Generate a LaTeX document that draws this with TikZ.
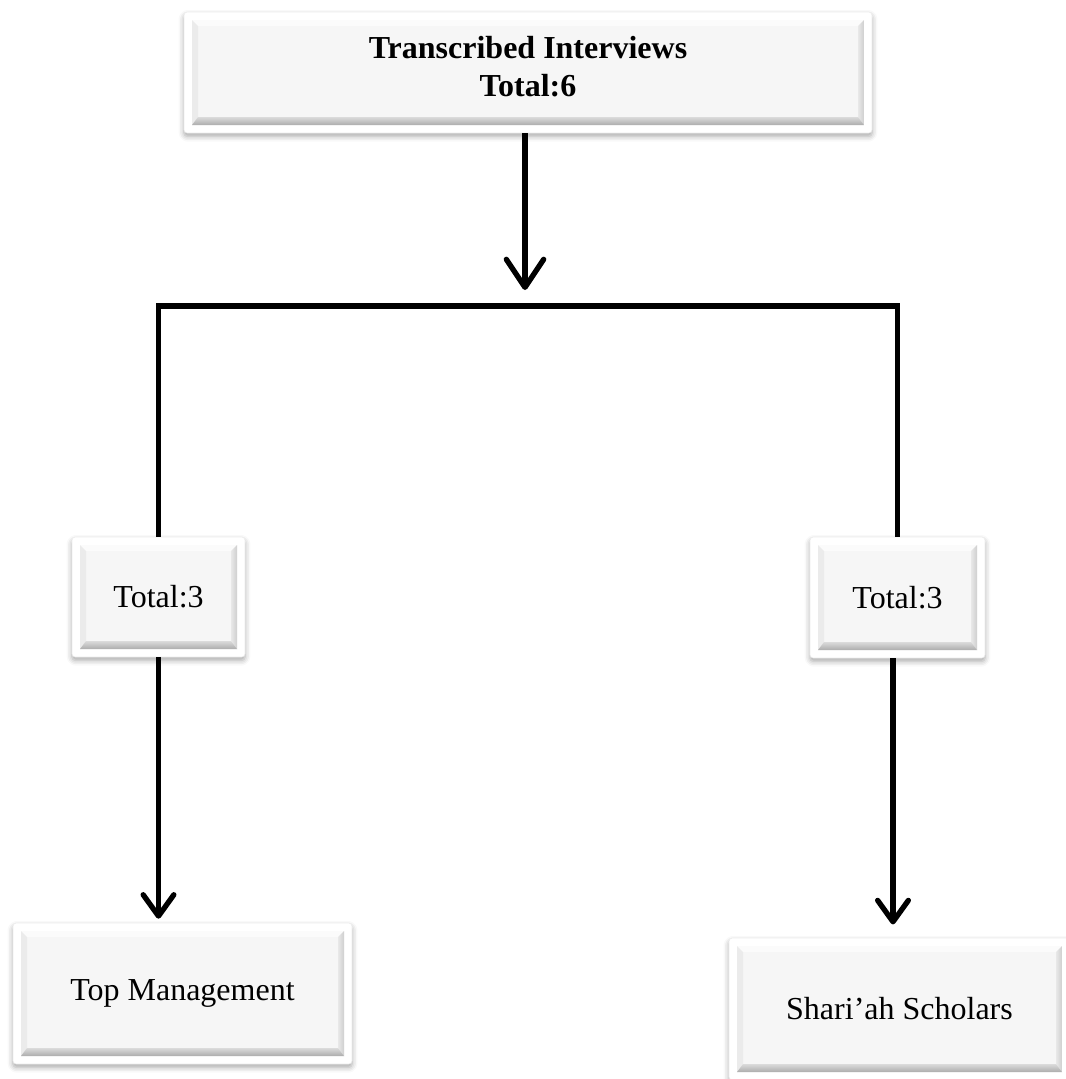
\documentclass[tikz,border=0pt]{standalone}
\usepackage{fontspec}
\setmainfont{Liberation Serif}
\usetikzlibrary{arrows.meta,shadows.blur}

\begin{document}
\begin{tikzpicture}[x=0.75pt,y=-0.75pt,
  bevelbox/.style={
    rounded corners=2.5pt, fill=white, draw=gray!15, line width=0.4pt,
    blur shadow={shadow xshift=0pt, shadow yshift=-2.5pt,
                 shadow blur radius=4pt, shadow opacity=35},
    inner sep=0pt, align=center,
    font=\fontsize{24}{28.5}\selectfont,
    path picture={
      \begin{scope}[sharp corners]
        \coordinate (ia) at ([shift={(6pt,6pt)}]path picture bounding box.south west);
        \coordinate (ib) at ([shift={(-6pt,-6pt)}]path picture bounding box.north east);
        \coordinate (ibr) at (ia -| ib);
        \coordinate (itl) at (ib -| ia);
        \coordinate (ja) at ([shift={(4.5pt,6pt)}]ia);
        \coordinate (jb) at ([shift={(-4.5pt,-4.5pt)}]ib);
        \coordinate (jbr) at (ja -| jb);
        \coordinate (jtl) at (jb -| ja);
        \fill[gray!7] (ia) rectangle (ib);
        % raised face: lit top and left, shaded right and bottom
        \fill[gray!3] (itl) -- (ib) -- (jb) -- (jtl) -- cycle;
        \fill[gray!16] (ia) -- (itl) -- (jtl) -- (ja) -- cycle;
        \shade[left color=gray!18, right color=gray!38] (ibr) -- (ib) -- (jb) -- (jbr) -- cycle;
        \shade[top color=gray!28, bottom color=gray!65] (ia) -- (ibr) -- (jbr) -- (ja) -- cycle;
      \end{scope}
    }},
  conn/.style={line width=4pt, black, line join=miter},
  bigtip/.style={-{Straight Barb[length=21pt,width=28pt,round,line width=4pt]}},
  smalltip/.style={-{Straight Barb[length=16pt,width=23pt,round,line width=4pt]}}
]
\useasboundingbox (0,0) rectangle (1066,1079);

% boxes
\node[bevelbox, minimum width=516pt, minimum height=90.75pt,
      font=\fontsize{24}{28.5}\selectfont\bfseries]
  (top) at (528,72.5) {Transcribed Interviews\\Total:6\strut};
\node[bevelbox, minimum width=129.75pt, minimum height=90pt]
  (lmid) at (158.5,597) {Total:3};
\node[bevelbox, minimum width=131.25pt, minimum height=90.75pt]
  (rmid) at (897.5,597.5) {Total:3};
\node[bevelbox, minimum width=254.25pt, minimum height=105.75pt]
  (lbot) at (182.5,993.5) {Top Management};
\node[bevelbox, minimum width=255.75pt, minimum height=106.5pt]
  (rbot) at (899.5,1009) {Shari’ah Scholars};

% connectors
\coordinate (toptip) at (525,290);
\coordinate (hub) at (525,306);
\coordinate (rx) at (893,0);

\draw[conn, bigtip] (toptip |- top.south) -- (toptip);
\draw[conn] (lmid.north) |- (hub) -| (rmid.north);
\draw[conn, smalltip, shorten >=3pt] (lmid.south) -- (lbot.north -| lmid.south);
\draw[conn, smalltip, shorten >=10pt] (rmid.south -| rx) -- (rbot.north -| rx);
\end{tikzpicture}
\end{document}
